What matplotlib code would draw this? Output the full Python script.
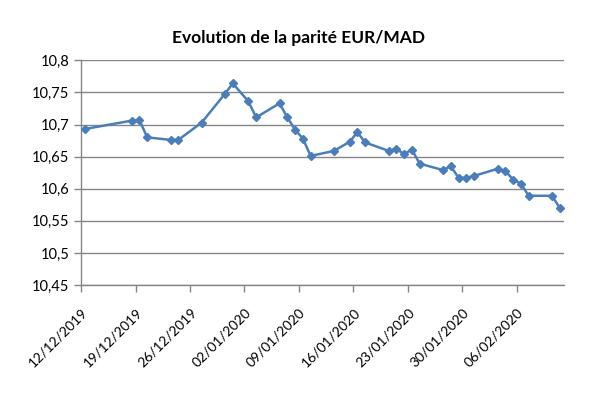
import matplotlib.pyplot as plt
import matplotlib.dates as mdates
import numpy as np
import datetime as dt

plt.rcParams['font.family'] = ['Lato', 'DejaVu Sans']

# EUR/MAD fixing, business days
dates = ["12/12/2019", "18/12/2019", "19/12/2019", "20/12/2019", "23/12/2019",
         "24/12/2019", "27/12/2019", "30/12/2019", "31/12/2019", "02/01/2020",
         "03/01/2020", "06/01/2020", "07/01/2020", "08/01/2020", "09/01/2020",
         "10/01/2020", "13/01/2020", "15/01/2020", "16/01/2020", "17/01/2020",
         "20/01/2020", "21/01/2020", "22/01/2020", "23/01/2020", "24/01/2020",
         "27/01/2020", "28/01/2020", "29/01/2020", "30/01/2020", "31/01/2020",
         "03/02/2020", "04/02/2020", "05/02/2020", "06/02/2020", "07/02/2020",
         "10/02/2020", "11/02/2020"]
rates = [10.693, 10.706, 10.707, 10.680, 10.676,
         10.676, 10.703, 10.748, 10.764, 10.736,
         10.711, 10.733, 10.711, 10.692, 10.678,
         10.651, 10.659, 10.673, 10.688, 10.672,
         10.659, 10.662, 10.654, 10.661, 10.639,
         10.629, 10.635, 10.617, 10.617, 10.620,
         10.631, 10.628, 10.614, 10.608, 10.589,
         10.589, 10.570]
yticks = [10.45, 10.5, 10.55, 10.6, 10.65, 10.7, 10.75, 10.8]

# excel puts each point in the middle of its day slot
days = [dt.datetime.strptime(d, "%d/%m/%Y") + dt.timedelta(hours=12) for d in dates]

fig = plt.figure(figsize=(5.97, 3.98), dpi=100)
ax = fig.add_axes([0.1357, 0.2839, 0.8085, 0.5646])

ax.plot(days, rates, color="#4a7ebb", lw=1.8, marker="D", ms=4.5, zorder=3)

ax.set_xlim(dt.datetime(2019, 12, 12), dt.datetime(2020, 2, 12))
ax.set_xticks([dt.datetime(2019, 12, 12) + dt.timedelta(days=7 * i) for i in range(9)])
ax.xaxis.set_major_formatter(mdates.DateFormatter("%d/%m/%Y"))
plt.setp(ax.get_xticklabels(), rotation=45, ha="right", rotation_mode="anchor")

ax.set_ylim(10.45, 10.8)
ax.set_yticks(yticks)
ax.set_yticklabels([("%g" % v).replace(".", ",") for v in yticks])
ax.grid(axis="y", color="#868686", lw=1)
ax.set_axisbelow(True)

for s in ["top", "right"]:
    ax.spines[s].set_visible(False)
for s in ["left", "bottom"]:
    ax.spines[s].set_color("#868686")
    ax.spines[s].set_linewidth(1)
ax.tick_params(axis="both", colors="#868686", labelcolor="black", labelsize=10.5, length=5, width=1)
ax.tick_params(axis="x", pad=10, labelsize=10)

fig.text(0.5, 0.905, "Evolution de la parité EUR/MAD", ha="center", va="center",
         fontsize=12.5, fontweight="bold")

fig.savefig("out.png", dpi=100)
